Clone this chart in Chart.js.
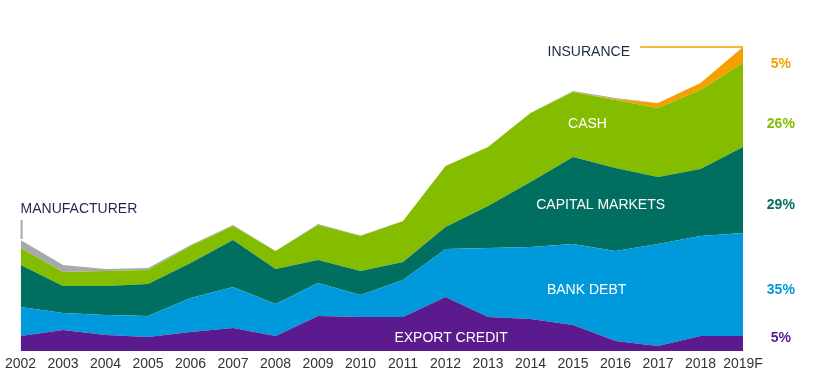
<!DOCTYPE html>
<html>
<head>
<meta charset="utf-8">
<script src="https://cdn.jsdelivr.net/npm/chart.js@4/dist/chart.umd.min.js"></script>
<style>
  body { margin: 0; background: #fff; }
  #wrap { width: 814px; height: 380px; }
</style>
</head>
<body>
<div id="wrap"><canvas id="mix"></canvas></div>
<script>
// years along the bottom
var years = ['2002', '2003', '2004', '2005', '2006', '2007', '2008', '2009', '2010',
  '2011', '2012', '2013', '2014', '2015', '2016', '2017', '2018', '2019F'];

// stacked layers, bottom to top (relative size)
var exportCredit   = [15, 21, 16, 14, 19, 23, 15, 35, 34, 34, 54, 34, 32, 26, 10, 5, 15, 15];
var bankDebt       = [29, 17, 20, 21, 34, 41, 32, 33, 22, 37, 48, 69, 72, 81, 90, 102, 100, 103];
var capitalMarkets = [42, 27, 29, 32, 35, 47, 35, 23, 24, 18, 22, 42, 65, 87, 83, 67, 67, 86];
var cash           = [17, 14, 15, 14, 17, 14, 18, 35, 35, 41, 61, 59, 69, 65, 68, 69, 79, 84];
var insurance      = [0, 0, 0, 0, 0, 0, 0, 0, 0, 0, 0, 0, 0, 0, 1, 5, 7, 16];
var manufacturer   = [8, 7, 2, 2, 1, 1, 0, 1, 0.5, 0, 0, 0, 0, 1, 1, 0, 0, 0];

// 2019F share labels on the right
var shareLabels = ['5%', '26%', '29%', '35%', '5%'];

var colors = {
  exportCredit: '#5b1a8e',
  bankDebt: '#0099db',
  capitalMarkets: '#006f5f',
  cash: '#84bd00',
  insurance: '#f5a000',
  manufacturer: '#a7a9ac'
};

function layer(label, data, color, fill) {
  return {
    label: label,
    data: data,
    backgroundColor: color,
    borderColor: color,
    borderWidth: 0,
    pointRadius: 0,
    tension: 0,
    fill: fill
  };
}

// labels placed in data units (x = category index, y = stacked value)
var areaLabels = [
  { text: 'EXPORT CREDIT', x: 10.13, y: 13, color: '#fff' },
  { text: 'BANK DEBT', x: 13.32, y: 61, color: '#fff' },
  { text: 'CAPITAL MARKETS', x: 13.65, y: 146, color: '#fff' },
  { text: 'CASH', x: 13.34, y: 227, color: '#fff' },
  { text: 'INSURANCE', x: 13.37, y: 299, color: '#1d2a4a' }
];
var shareY = [287, 227, 146, 61, 13];
var shareColors = [colors.insurance, colors.cash, colors.capitalMarkets, colors.bankDebt, colors.exportCredit];

var labelPlugin = {
  id: 'labels',
  afterDatasetsDraw: function (chart) {
    var ctx = chart.ctx;
    var xs = chart.scales.x, ys = chart.scales.y;
    ctx.save();
    ctx.textBaseline = 'middle';
    ctx.font = '14px "Liberation Sans", Arial, sans-serif';
    ctx.textAlign = 'center';
    areaLabels.forEach(function (l) {
      ctx.fillStyle = l.color;
      ctx.fillText(l.text, xs.getPixelForValue(l.x), ys.getPixelForValue(l.y));
    });
    // manufacturer label and leader
    ctx.textAlign = 'left';
    ctx.fillStyle = '#1d2a4a';
    ctx.fillText('MANUFACTURER', xs.getPixelForValue(0), ys.getPixelForValue(142));
    ctx.strokeStyle = colors.manufacturer;
    ctx.lineWidth = 2;
    ctx.beginPath();
    ctx.moveTo(xs.getPixelForValue(0) + 1, ys.getPixelForValue(131));
    ctx.lineTo(xs.getPixelForValue(0) + 1, ys.getPixelForValue(112));
    ctx.stroke();
    // insurance leader
    ctx.strokeStyle = colors.insurance;
    ctx.lineWidth = 1.5;
    ctx.beginPath();
    ctx.moveTo(xs.getPixelForValue(14.58), ys.getPixelForValue(304));
    ctx.lineTo(xs.getPixelForValue(17), ys.getPixelForValue(304));
    ctx.stroke();
    // shares
    ctx.textAlign = 'center';
    ctx.font = 'bold 14px "Liberation Sans", Arial, sans-serif';
    shareLabels.forEach(function (t, i) {
      ctx.fillStyle = shareColors[i];
      ctx.fillText(t, xs.getPixelForValue(17.89), ys.getPixelForValue(shareY[i]));
    });
    ctx.restore();
  }
};

var ctx = document.getElementById('mix').getContext('2d');
var chart = new Chart(ctx, {
  type: 'line',
  data: {
    labels: years,
    datasets: [
      layer('Export credit', exportCredit, colors.exportCredit, 'origin'),
      layer('Bank debt', bankDebt, colors.bankDebt, '-1'),
      layer('Capital markets', capitalMarkets, colors.capitalMarkets, '-1'),
      layer('Cash', cash, colors.cash, '-1'),
      layer('Insurance', insurance, colors.insurance, '-1'),
      layer('Manufacturer', manufacturer, colors.manufacturer, '-1')
    ]
  },
  options: {
    responsive: true,
    maintainAspectRatio: false,
    animation: false,
    layout: { padding: { left: 18, right: 71, top: 10, bottom: 0 } },
    plugins: {
      legend: { display: false },
      tooltip: { enabled: false }
    },
    scales: {
      x: {
        offset: false,
        grid: { display: false, drawTicks: false },
        border: { display: false },
        ticks: {
          autoSkip: false,
          maxRotation: 0,
          padding: 5,
          color: '#333',
          font: { family: '"Liberation Sans", Arial, sans-serif', size: 14 }
        },
        afterFit: function (s) { s.height = 29; }
      },
      y: {
        display: false,
        stacked: true,
        min: 0,
        max: 341
      }
    }
  },
  plugins: [labelPlugin]
});
</script>
</body>
</html>
